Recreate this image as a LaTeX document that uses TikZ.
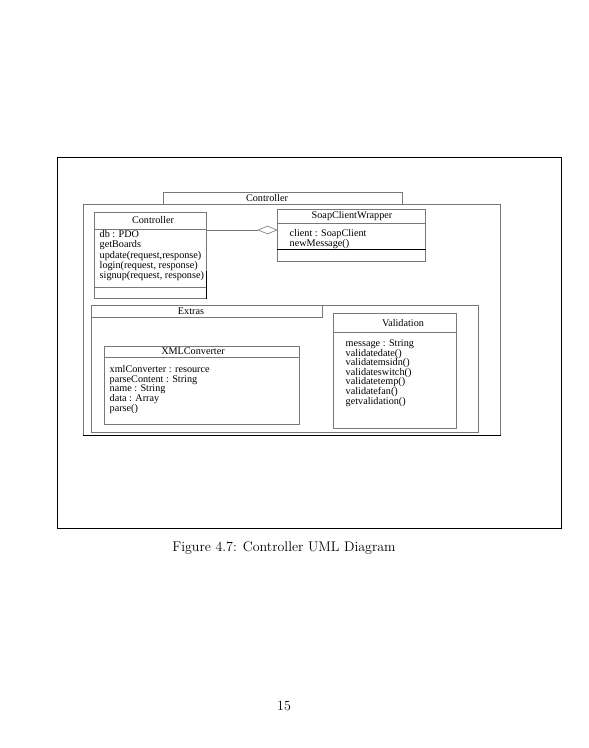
\documentclass[tikz,border=0pt]{standalone}
\usepackage{fontspec}
\usetikzlibrary{shapes.geometric}
\newfontfamily\umlfont{Liberation Serif}
\definecolor{lgray}{RGB}{120,120,120}
\tikzset{
  box/.style={draw=lgray, line width=0.6pt, inner sep=0pt, anchor=north west},
  umltext/.style={font=\umlfont\fontsize{10.2}{9.6}\selectfont, inner sep=0pt},
  attr/.style={umltext, align=left, anchor=north west},
  ttl/.style={umltext, anchor=center},
  divider/.style={draw=lgray, line width=0.6pt},
  darkline/.style={draw=black, line width=0.7pt}
}
\begin{document}
\begin{tikzpicture}[x=1pt,y=-1pt]
\useasboundingbox (0,0) rectangle (589,748);
% outer frame
\node[draw=black, line width=1.1pt, inner sep=0pt, anchor=north west, minimum width=504pt, minimum height=371pt] (frame) at (57,157) {};
% Controller package
\node[box, minimum width=417pt, minimum height=231pt] (ctrlpkg) at (83,204) {};
\draw[darkline] (ctrlpkg.south west) -- (ctrlpkg.south east);
\node[box, minimum width=239pt, minimum height=12pt] (ctrltab) at (163,192) {};
\node[ttl] (ctrltabl) at (267,198) {Controller};
% Extras package
\node[box, minimum width=387pt, minimum height=127pt] (extpkg) at (91,305) {};
\node[box, minimum width=231pt, minimum height=12pt] (exttab) at (91,305) {};
\node[ttl] (exttabl) at (191,311) {Extras};
% Controller class
\node[box, minimum width=112pt, minimum height=86pt] (ctrl) at (94,212) {};
\coordinate (c1) at (94,229);
\coordinate (c2) at (94,287);
\draw[divider] (c1) -- (c1 -| ctrl.east);
\draw[divider] (c2) -- (c2 -| ctrl.east);
\draw[darkline] (ctrl.south east) -- ++(0,-28);
\node[ttl] (ctrlt) at (153,220.5) {Controller};
\node[attr, font=\umlfont\fontsize{10.2}{10.2}\selectfont] (ctrla) at (99.5,230.5) {db : PDO\\getBoards\\update(request,response)\\login(request, response)\\signup(request, response)};
% SoapClientWrapper
\node[box, minimum width=148pt, minimum height=52pt] (soap) at (277,209) {};
\coordinate (s1) at (277,223);
\coordinate (s2) at (277,249);
\draw[divider] (s1) -- (s1 -| soap.east);
\draw[darkline] (s2) -- (s2 -| soap.east);
\node[ttl] (soapt) at (352,216.5) {SoapClientWrapper};
\node[attr, font=\umlfont\fontsize{10.2}{8.4}\selectfont] (soapa) at (289.5,229) {client : SoapClient\\newMessage()};
% aggregation
\node[draw=lgray, line width=0.6pt, diamond, inner sep=0pt, minimum width=19pt, minimum height=8pt] (agg) at (267.5,230) {};
\draw[lgray, line width=0.6pt] (agg.west) -- (agg.west -| ctrl.east);
% Validation
\node[box, minimum width=123pt, minimum height=115pt] (val) at (333,313) {};
\coordinate (v1) at (333,332);
\draw[divider] (v1) -- (v1 -| val.east);
\node[ttl] (valt) at (403,323) {Validation};
\node[attr] (vala) at (345.5,339.5) {message : String\\validatedate()\\validatemsidn()\\validateswitch()\\validatetemp()\\validatefan()\\getvalidation()};
% XMLConverter
\node[box, minimum width=195pt, minimum height=78pt] (xml) at (104,346) {};
\coordinate (x1) at (104,357);
\draw[divider] (x1) -- (x1 -| xml.east);
\node[ttl] (xmlt) at (193,351.5) {XMLConverter};
\node[attr] (xmla) at (109.5,365.5) {xmlConverter : resource\\parseContent : String\\name : String\\data : Array\\parse()};
% caption
\node[font=\fontsize{14}{16}\selectfont, inner sep=0pt] (cap) at (284,548) {Figure 4.7: Controller UML Diagram};
\node[font=\fontsize{14}{16}\selectfont, inner sep=0pt] (pg) at (284,706) {15};
\end{tikzpicture}
\end{document}
